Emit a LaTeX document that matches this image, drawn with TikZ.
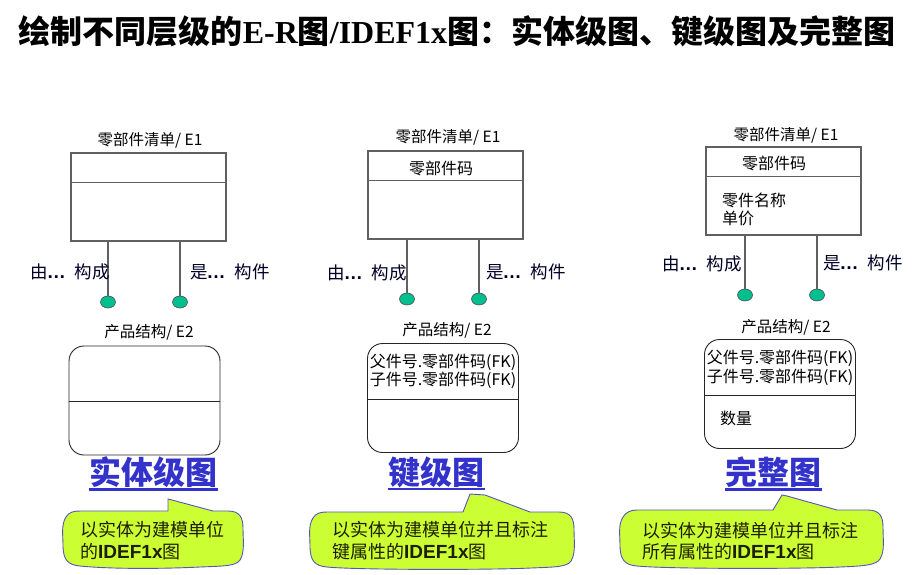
\documentclass[tikz,border=0pt]{standalone}
\usepackage{fontspec}
\setmainfont{Noto Sans CJK SC}
\newfontfamily\lsans{Liberation Sans}
\newfontfamily\lserif{Liberation Serif}
\usetikzlibrary{shapes.geometric}
\definecolor{hblue}{HTML}{3333CC}
\definecolor{cfill}{HTML}{CCFF33}
\definecolor{cedge}{HTML}{5555BB}
\definecolor{dotc}{HTML}{00BF8F}
\definecolor{linec}{HTML}{606060}
\definecolor{ctxt}{HTML}{1E1E00}
\tikzset{
  e1box/.style={draw=linec, line width=1.1pt, minimum width=155pt, minimum height=88pt, inner sep=0},
  e2box/.style={draw=black!85, line width=0.9pt, rounded corners=15pt, minimum width=151pt, minimum height=109pt, inner sep=0},
  dot/.style={ellipse, draw=black!70, fill=dotc, minimum width=15pt, minimum height=12pt, inner sep=0, line width=0.6pt},
  conn/.style={draw=linec, line width=1.4pt},
  lbl/.style={font=\fontsize{15.5}{17}\selectfont, inner sep=0, text=black},
  rel/.style={font=\fontsize{17.5}{19}\selectfont, inner sep=0, text=black!85!blue},
  attr/.style={font=\fontsize{16}{18}\selectfont, inner sep=0, text=black},
  head/.style={font=\fontsize{32}{36}\selectfont\bfseries, inner sep=0, text=hblue},
  uline/.style={draw=hblue, line width=2.6pt},
  callout/.style={draw=cedge, fill=cfill, line width=0.9pt},
  ctext/.style={font=\fontsize{18}{21.5}\selectfont, inner sep=0, text=ctxt, align=left, anchor=west}
}
\newcommand{\dts}{\makebox[17pt][c]{\lsans\bfseries\fontsize{19}{19}\selectfont …}\hspace{10pt}}
\newcommand{\idef}{{\lsans\bfseries\fontsize{19}{21}\selectfont IDEF1x}}
\begin{document}
\begin{tikzpicture}[x=1pt,y=-1pt]
\useasboundingbox (0,0) rectangle (919,574);
% title
\node[inner sep=0, font=\fontsize{32}{36}\selectfont\bfseries] (title) at (457,31)
  {绘制不同层级的{\lserif\bfseries E-R}图{\lserif\bfseries /IDEF1x}图：实体级图、键级图及完整图};

% ---------- panel 1 ----------
\node[lbl] (l1a) at (150,140) {零部件清单/ E1};
\node[e1box] (e1a) at (148.5,197) {};
\draw[linec, line width=1.1pt] ([yshift=-30pt]e1a.north west) -- ([yshift=-30pt]e1a.north east);
\node[dot] (d1a) at (108,302) {};
\node[dot] (d1b) at (180,302) {};
\draw[conn] (d1a) -- (d1a |- e1a.south);
\draw[conn] (d1b) -- (d1b |- e1a.south);
\node[rel, anchor=east] (r1a) at (110,272) {由\dts 构成};
\node[rel, anchor=west] (r1b) at (190,272) {是\dts 构件};
\node[lbl] (l1b) at (149,332) {产品结构/ E2};
\node[e2box] (e2a) at (144.5,400.5) {};
\draw[black!85, line width=0.9pt] ([yshift=-56pt]e2a.north west) -- ([yshift=-56pt]e2a.north east);
\node[head] (h1) at (153.5,472) {实体级图};
\draw[uline] ([yshift=-5pt]h1.base west) -- ([yshift=-5pt]h1.base east);
\draw[callout] (80,511) -- (168,511) -- (168,499) -- (172,500) -- (213,511) -- (228,511)
 .. controls (240,511) and (243,518) .. (243,528)
 .. controls (243,540) and (245,552) .. (240,560)
 .. controls (236,566) and (225,566) .. (200,567)
 .. controls (160,569) and (110,569) .. (80,566)
 .. controls (68,565) and (63,560) .. (63,545)
 .. controls (63,535) and (61,525) .. (66,517)
 .. controls (69,512) and (74,511) .. (80,511) -- cycle;
\node[ctext] (c1) at (80,540.5) {以实体为建模单位\\的\idef 图};

% ---------- panel 2 ----------
\node[lbl] (l2a) at (448,137) {零部件清单/ E1};
\node[e1box] (e1b) at (445.5,195) {};
\draw[linec, line width=1.1pt] ([yshift=-30pt]e1b.north west) -- ([yshift=-30pt]e1b.north east);
\node[attr] (k2) at (441,168) {零部件码};
\node[dot] (d2a) at (407,299) {};
\node[dot] (d2b) at (479,299) {};
\draw[conn] (d2a) -- (d2a |- e1b.south);
\draw[conn] (d2b) -- (d2b |- e1b.south);
\node[rel, anchor=east] (r2a) at (407,273) {由\dts 构成};
\node[rel, anchor=west] (r2b) at (486,272) {是\dts 构件};
\node[lbl] (l2b) at (447,330) {产品结构/ E2};
\node[e2box] (e2b) at (443,398) {};
\draw[black!85, line width=0.9pt] ([yshift=-56pt]e2b.north west) -- ([yshift=-56pt]e2b.north east);
\node[attr] (f2a) at (443,362) {父件号.零部件码(FK)};
\node[attr] (f2b) at (443,380) {子件号.零部件码(FK)};
\node[head] (h2) at (436.5,472) {键级图};
\draw[uline] ([yshift=-5pt]h2.base west) -- ([yshift=-5pt]h2.base east);
\draw[callout] (327,512) -- (463,512) -- (470,494) -- (485,495) -- (530,512) -- (559,512)
 .. controls (571,512) and (574,519) .. (574,529)
 .. controls (574,541) and (576,553) .. (571,561)
 .. controls (567,567) and (556,567) .. (531,568)
 .. controls (491,570) and (357,570) .. (327,567)
 .. controls (315,566) and (310,561) .. (310,546)
 .. controls (310,536) and (308,526) .. (313,518)
 .. controls (316,513) and (321,512) .. (327,512) -- cycle;
\node[ctext] (c2) at (332,540.5) {以实体为建模单位并且标注\\键属性的\idef 图};

% ---------- panel 3 ----------
\node[lbl] (l3a) at (786,135) {零部件清单/ E1};
\node[e1box] (e1c) at (783.5,191) {};
\draw[linec, line width=1.1pt] ([yshift=-30pt]e1c.north west) -- ([yshift=-30pt]e1c.north east);
\node[attr] (k3) at (774,163) {零部件码};
\node[attr, anchor=west] (a3a) at (722,200) {零件名称};
\node[attr, anchor=west] (a3b) at (722,218) {单价};
\node[dot] (d3a) at (745,295) {};
\node[dot] (d3b) at (817,295) {};
\draw[conn] (d3a) -- (d3a |- e1c.south);
\draw[conn] (d3b) -- (d3b |- e1c.south);
\node[rel, anchor=east] (r3a) at (742,264) {由\dts 构成};
\node[rel, anchor=west] (r3b) at (823,263) {是\dts 构件};
\node[lbl] (l3b) at (786,327) {产品结构/ E2};
\node[e2box] (e2c) at (780,394) {};
\draw[black!85, line width=0.9pt] ([yshift=-56pt]e2c.north west) -- ([yshift=-56pt]e2c.north east);
\node[attr] (f3a) at (780,358) {父件号.零部件码(FK)};
\node[attr] (f3b) at (780,377) {子件号.零部件码(FK)};
\node[attr, anchor=west] (q3) at (720,418) {数量};
\node[head] (h3) at (773.5,472) {完整图};
\draw[uline] ([yshift=-5pt]h3.base west) -- ([yshift=-5pt]h3.base east);
\draw[callout] (637,510) -- (773,510) -- (782,495) -- (787,496) -- (837,510) -- (868,510)
 .. controls (880,510) and (883,517) .. (883,527)
 .. controls (883,539) and (885,551) .. (880,559)
 .. controls (876,565) and (865,566) .. (840,567)
 .. controls (800,569) and (667,569) .. (637,566)
 .. controls (625,565) and (620,560) .. (620,545)
 .. controls (620,535) and (618,525) .. (623,517)
 .. controls (626,512) and (631,510) .. (637,510) -- cycle;
\node[ctext] (c3) at (642,541) {以实体为建模单位并且标注\\所有属性的\idef 图};
\end{tikzpicture}
\end{document}
